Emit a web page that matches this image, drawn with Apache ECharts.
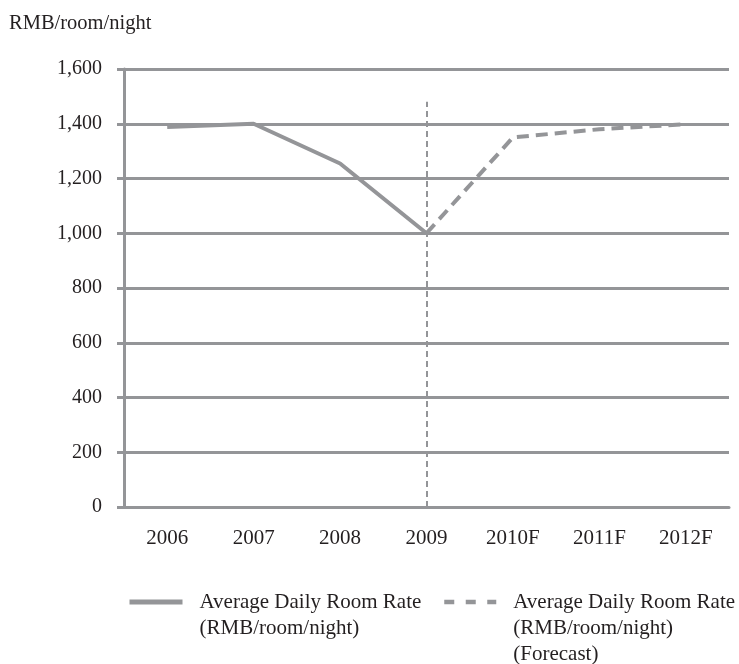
<!DOCTYPE html>
<html>
<head>
<meta charset="utf-8">
<script src="https://cdn.jsdelivr.net/npm/echarts@6/dist/echarts.min.js"></script>
<style>html,body{margin:0;padding:0;background:#fff;}#c{width:739px;height:664px;}</style>
</head>
<body>
<div id="c"></div>
<script>
var categories = ['2006', '2007', '2008', '2009', '2010F', '2011F', '2012F'];
var actualValues = [1388, 1400, 1255, 1000, null, null, null];
var forecastValues = [null, null, null, 1000, 1350, 1380, 1398];
var yTicks = [0, 200, 400, 600, 800, 1000, 1200, 1400, 1600];
var dividerCategory = '2009';
var dividerTop = 1480;
var unitLabel = 'RMB/room/night';
var seriesNames = ['Average Daily Room Rate\n(RMB/room/night)', 'Average Daily Room Rate\n(RMB/room/night)\n(Forecast)'];

var FONT = '"Liberation Serif", "DejaVu Serif", serif';
var GRAY = '#949598';
var TXT = '#231f20';
var chart = echarts.init(document.getElementById('c'));
chart.setOption({
  animation: false,
  backgroundColor: '#fff',
  title: {
    text: unitLabel, left: 4, top: 8,
    textStyle: { fontFamily: FONT, fontSize: 20.5, fontWeight: 'normal', color: TXT }
  },
  grid: { left: 124, right: 10, top: 69, bottom: 157 },
  legend: [
    {
      data: [seriesNames[0]], left: 122, top: 558, orient: 'horizontal',
      itemWidth: 53, itemHeight: 2,
      lineStyle: { width: 5 },
      formatter: function (n) { return '\n' + n; },
      textStyle: { fontFamily: FONT, fontSize: 21, color: TXT, lineHeight: 26, padding: [0, 0, 0, 12] }
    },
    {
      data: [seriesNames[1]], left: 437, top: 532, orient: 'horizontal',
      itemWidth: 52, itemHeight: 2,
      lineStyle: { width: 4.5, type: [10, 11.5] },
      formatter: function (n) { return '\n\n' + n; },
      textStyle: { fontFamily: FONT, fontSize: 21, color: TXT, lineHeight: 26, padding: [0, 0, 0, 12] }
    }
  ],
  xAxis: {
    type: 'category', data: categories, boundaryGap: true,
    axisLine: { lineStyle: { color: GRAY, width: 3 } },
    axisTick: { show: false },
    axisLabel: { fontFamily: FONT, fontSize: 21, color: TXT, margin: 21 },
    splitLine: { show: false }
  },
  yAxis: {
    type: 'value', min: yTicks[0], max: yTicks[yTicks.length - 1], interval: yTicks[1] - yTicks[0],
    axisLine: { show: true, lineStyle: { color: GRAY, width: 3 } },
    axisTick: { show: true, length: 7, lineStyle: { color: GRAY, width: 3 } },
    axisLabel: {
      fontFamily: FONT, fontSize: 20, color: TXT, margin: 22,
      formatter: function (v) { return v.toLocaleString('en-US'); }
    },
    splitLine: { show: true, lineStyle: { color: GRAY, width: 3 } }
  },
  series: [
    {
      name: seriesNames[0], type: 'line', data: actualValues, symbol: 'none',
      lineStyle: { color: GRAY, width: 4 }, itemStyle: { color: GRAY },
      connectNulls: false,
      markLine: {
        silent: true, symbol: 'none', label: { show: false },
        lineStyle: { color: GRAY, width: 2, type: [6, 4] },
        data: [[{ xAxis: dividerCategory, yAxis: 0 }, { xAxis: dividerCategory, yAxis: dividerTop }]]
      }
    },
    {
      name: seriesNames[1], type: 'line', data: forecastValues, symbol: 'none',
      lineStyle: { color: GRAY, width: 4, type: [12, 7] }, itemStyle: { color: GRAY }
    }
  ]
});
</script>
</body>
</html>
